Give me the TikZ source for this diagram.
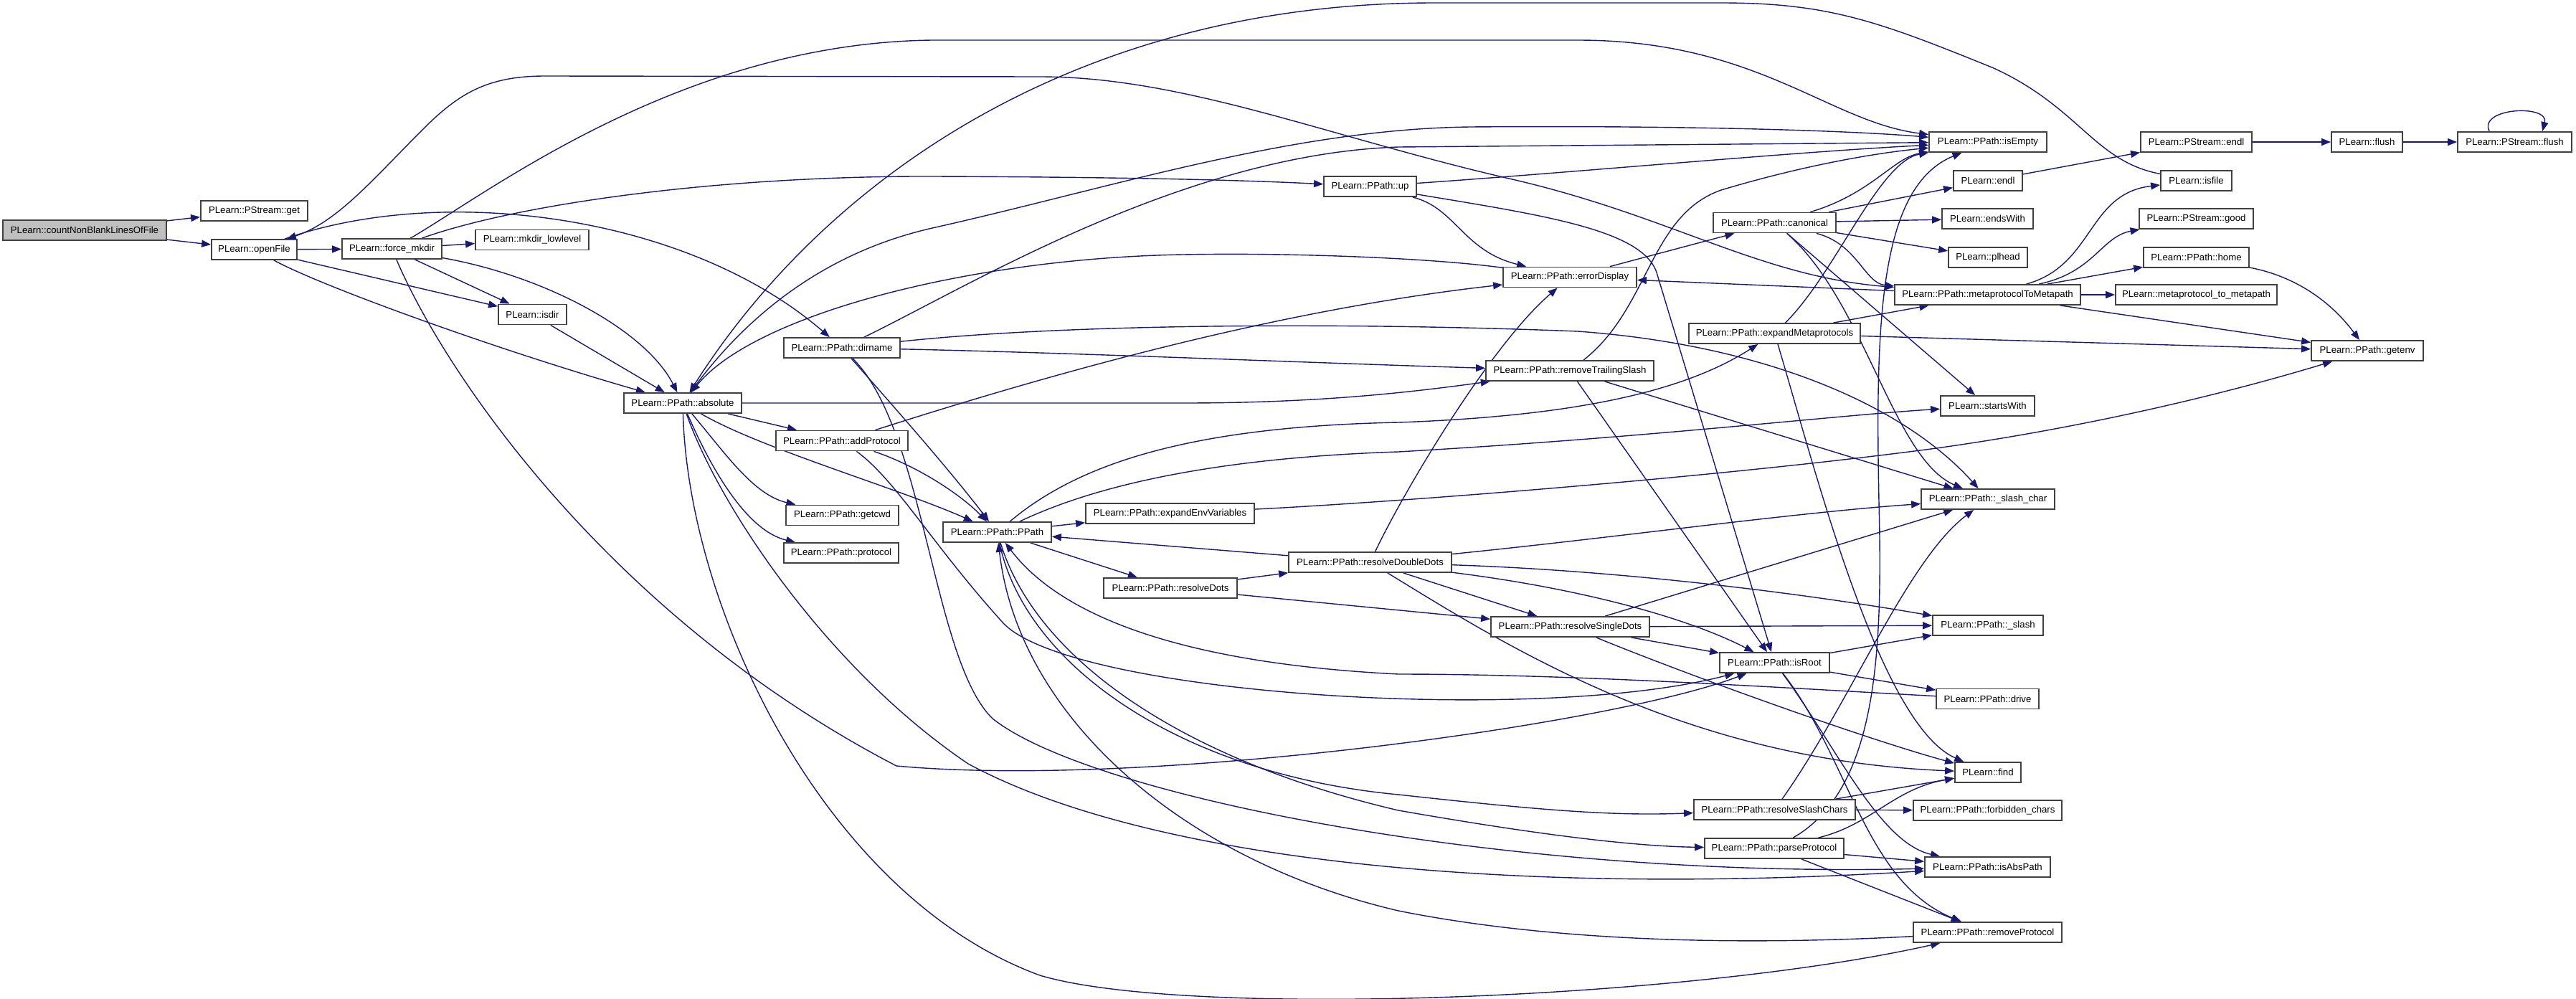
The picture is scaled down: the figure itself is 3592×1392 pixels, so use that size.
\documentclass[tikz,border=0pt]{standalone}
\usepackage{fontspec}
\setmainfont{Liberation Sans}
\usetikzlibrary{arrows.meta,calc}
\pgfdeclarelayer{bg}
\pgfsetlayers{bg,main}
\definecolor{edgec}{RGB}{25,25,112}
\definecolor{rootfill}{RGB}{191,191,191}
\begin{document}
\begin{tikzpicture}[x=0.5pt,y=-0.5pt,
  nbox/.style={draw=black!75,line width=0.9pt,fill=white,inner sep=0pt,minimum height=14pt,font=\fontsize{6.6}{8}\selectfont},
  conn/.style={draw=edgec,line width=0.7pt,-{Triangle[length=6.5pt,width=5pt]}},
  bconn/.style={draw=edgec,line width=0.7pt,{Triangle[length=6.5pt,width=5pt]}-{Triangle[length=6.5pt,width=5pt]}}]
\useasboundingbox (0,0) rectangle (3592,1392);
% nodes
\node[nbox,fill=rootfill,minimum width=114pt] (count) at (118,321) {PLearn::countNonBlankLinesOfFile};
\node[nbox,minimum width=74.5pt] (get) at (354.5,294) {PLearn::PStream::get};
\node[nbox,minimum width=59.5pt] (openFile) at (354.5,348) {PLearn::openFile};
\node[nbox,minimum width=69.5pt] (force) at (546.5,347) {PLearn::force\_mkdir};
\node[nbox,minimum width=79pt] (mkdir) at (742,334.5) {PLearn::mkdir\_lowlevel};
\node[nbox,minimum width=47.5pt] (isdir) at (742.5,438.5) {PLearn::isdir};
\node[nbox,minimum width=82pt] (absolute) at (952,562) {PLearn::PPath::absolute};
\node[nbox,minimum width=81pt] (dirname) at (1174,485) {PLearn::PPath::dirname};
\node[nbox,minimum width=92pt] (addProtocol) at (1174,614.5) {PLearn::PPath::addProtocol};
\node[nbox,minimum width=78.5pt] (getcwd) at (1174.5,718.5) {PLearn::PPath::getcwd};
\node[nbox,minimum width=80pt] (protocol) at (1173,771) {PLearn::PPath::protocol};
\node[nbox,minimum width=64.5pt] (up) at (1910.5,260) {PLearn::PPath::up};
\node[nbox,minimum width=75.5pt] (PPath) at (1390.5,742) {PLearn::PPath::PPath};
\node[nbox,minimum width=117.5pt] (eEV) at (1631.5,716) {PLearn::PPath::expandEnvVariables};
\node[nbox,minimum width=93pt] (resolveDots) at (1632,820) {PLearn::PPath::resolveDots};
\node[nbox,minimum width=113.5pt] (rDD) at (1910.5,784) {PLearn::PPath::resolveDoubleDots};
\node[nbox,minimum width=93pt] (errorDisplay) at (2189,386.5) {PLearn::PPath::errorDisplay};
\node[nbox,minimum width=117pt] (rTS) at (2189,517) {PLearn::PPath::removeTrailingSlash};
\node[nbox,minimum width=85.5pt] (canonical) at (2474.5,310.5) {PLearn::PPath::canonical};
\node[nbox,minimum width=119.5pt] (eMP) at (2474.5,465) {PLearn::PPath::expandMetaprotocols};
\node[nbox,minimum width=110.5pt] (rSD) at (2189.5,874) {PLearn::PPath::resolveSingleDots};
\node[nbox,minimum width=76.5pt] (isRoot) at (2474.5,924) {PLearn::PPath::isRoot};
\node[nbox,minimum width=112.5pt] (rSC) at (2474.5,1129) {PLearn::PPath::resolveSlashChars};
\node[nbox,minimum width=97pt] (parseProtocol) at (2474,1183) {PLearn::PPath::parseProtocol};
\node[nbox,minimum width=129.5pt] (mtM) at (2771.5,411) {PLearn::PPath::metaprotocolToMetapath};
\node[nbox,minimum width=82pt] (isEmpty) at (2772,198) {PLearn::PPath::isEmpty};
\node[nbox,minimum width=48pt] (endl) at (2772,252) {PLearn::endl};
\node[nbox,minimum width=63.5pt] (endsWith) at (2771.5,305) {PLearn::endsWith};
\node[nbox,minimum width=55pt] (plhead) at (2772,359) {PLearn::plhead};
\node[nbox,minimum width=65.5pt] (startsWith) at (2771.5,566) {PLearn::startsWith};
\node[nbox,minimum width=93pt] (slashchar) at (2772,696) {PLearn::PPath::\_slash\_char};
\node[nbox,minimum width=77pt] (slash) at (2772,872) {PLearn::PPath::\_slash};
\node[nbox,minimum width=71.5pt] (drive) at (2771.5,974.5) {PLearn::PPath::drive};
\node[nbox,minimum width=46pt] (find) at (2772,1077) {PLearn::find};
\node[nbox,minimum width=103.5pt] (forbidden) at (2771.5,1130) {PLearn::PPath::forbidden\_chars};
\node[nbox,minimum width=87.5pt] (isAbsPath) at (2771.5,1209) {PLearn::PPath::isAbsPath};
\node[nbox,minimum width=103.5pt] (removeProtocol) at (2771.5,1300) {PLearn::PPath::removeProtocol};
\node[nbox,minimum width=77.5pt] (psendl) at (3062.5,198) {PLearn::PStream::endl};
\node[nbox,minimum width=49.5pt] (isfile) at (3062.5,252) {PLearn::isfile};
\node[nbox,minimum width=79.5pt] (good) at (3062.5,305) {PLearn::PStream::good};
\node[nbox,minimum width=73.5pt] (home) at (3062.5,359) {PLearn::PPath::home};
\node[nbox,minimum width=112.5pt] (mtmtwo) at (3062.5,411) {PLearn::metaprotocol\_to\_metapath};
\node[nbox,minimum width=78pt] (getenv) at (3301,489) {PLearn::PPath::getenv};
\node[nbox,minimum width=49.5pt] (flush) at (3300.5,198) {PLearn::flush};
\node[nbox,minimum width=79.5pt] (psflush) at (3506.5,198) {PLearn::PStream::flush};
% edges
\begin{pgfonlayer}{bg}
\draw[conn] (count) -- (get);
\draw[conn] (count) -- (openFile);
\draw[conn] (openFile) -- (force);
\draw[conn] (openFile) -- (isdir);
\draw[conn] (openFile) .. controls (450,400) and (700,490) .. (absolute);
\draw[conn] (openFile) .. controls (620,255) and (960,300) .. (dirname);
\draw[conn] (force) .. controls (680,270) and (950,60) .. (1300,56) -- (2200,56) .. controls (2450,56) and (2550,170) .. (isEmpty);
\draw[conn] (force) .. controls (720,285) and (1000,245) .. (1300,246) .. controls (1600,247) and (1750,252) .. (up);
\draw[conn] (force) -- (mkdir);
\draw[conn] (force) -- (isdir);
\draw[conn] (force) .. controls (760,385) and (900,460) .. (absolute);
\draw[conn] (force) .. controls (620,520) and (850,860) .. (1250,1068) .. controls (1600,1100) and (2250,1010) .. (isRoot);
\draw[conn] (isdir) -- (absolute);
\draw[conn] (isfile) .. controls (2920,225) and (2900,150) .. (2780,95) .. controls (2620,30) and (2550,4) .. (2400,4) -- (2000,4) .. controls (1500,4) and (1150,250) .. (absolute);
\draw[bconn] (mtM) .. controls (2450,385) and (2330,300) .. (2100,248) .. controls (1850,190) and (1650,107) .. (1450,107) -- (760,106) .. controls (680,106) and (640,130) .. (590,180) .. controls (520,250) and (470,310) .. (openFile);
\draw[conn] (absolute) .. controls (1040,440) and (1150,352) .. (1300,318) .. controls (1550,262) and (1800,180) .. (2050,177) .. controls (2300,175) and (2550,180) .. (isEmpty);
\draw[conn] (absolute) -- (1650,562) .. controls (1850,562) and (1980,545) .. (rTS);
\draw[conn] (absolute) -- (addProtocol);
\draw[conn] (absolute) .. controls (1010,630) and (1050,690) .. (getcwd);
\draw[conn] (absolute) .. controls (990,650) and (1040,740) .. (protocol);
\draw[conn] (absolute) .. controls (1060,625) and (1250,680) .. (PPath);
\draw[conn] (absolute) .. controls (1000,700) and (1150,930) .. (1350,1065) .. controls (1600,1200) and (2100,1250) .. (isAbsPath);
\draw[conn] (absolute) .. controls (960,850) and (1150,1250) .. (1450,1360) .. controls (1650,1420) and (2350,1395) .. (removeProtocol);
\draw[conn] (errorDisplay) .. controls (2000,360) and (1800,352) .. (1650,355) .. controls (1350,360) and (1050,440) .. (absolute);
\draw[conn] (up) .. controls (2200,240) and (2500,212) .. (isEmpty);
\draw[conn] (up) .. controls (2030,290) and (2040,350) .. (errorDisplay);
\draw[conn] (up) .. controls (2150,300) and (2290,320) .. (2310,380) -- (isRoot);
\draw[conn] (dirname) .. controls (1350,400) and (1650,215) .. (1950,205) -- (isEmpty);
\draw[conn] (dirname) .. controls (1500,492) and (1800,505) .. (rTS);
\draw[conn] (dirname) .. controls (1500,450) and (1900,450) .. (2200,462) .. controls (2450,480) and (2650,560) .. (slashchar);
\draw[conn] (dirname) .. controls (1240,560) and (1320,650) .. (PPath);
\draw[conn] (dirname) .. controls (1290,600) and (1300,920) .. (1384,1002) .. controls (1520,1110) and (2100,1225) .. (isAbsPath);
\draw[conn] (addProtocol) .. controls (1250,670) and (1300,760) .. (1400,870) .. controls (1500,970) and (2150,1010) .. (isRoot);
\draw[conn] (addProtocol) .. controls (1500,510) and (1800,430) .. (errorDisplay);
\draw[conn] (addProtocol) .. controls (1280,650) and (1340,690) .. (PPath);
\draw[conn] (PPath) -- (eEV);
\draw[conn] (PPath) -- (resolveDots);
\draw[conn] (PPath) .. controls (1430,930) and (1650,1080) .. (1950,1108) .. controls (2150,1130) and (2250,1138) .. (rSC);
\draw[conn] (PPath) .. controls (1445,920) and (1650,1060) .. (1950,1130) .. controls (2150,1165) and (2280,1180) .. (parseProtocol);
\draw[conn] (PPath) .. controls (1500,650) and (1650,595) .. (1950,589) .. controls (2200,580) and (2350,545) .. (eMP);
\draw[conn] (PPath) .. controls (1500,690) and (1650,640) .. (1950,630) .. controls (2300,610) and (2550,580) .. (startsWith);
\draw[conn] (rDD) -- (PPath);
\draw[conn] (drive) .. controls (2500,960) and (2200,940) .. (1950,940) .. controls (1650,925) and (1480,860) .. (PPath);
\draw[conn] (removeProtocol) .. controls (2400,1320) and (2150,1310) .. (1950,1270) .. controls (1650,1200) and (1420,1000) .. (PPath);
\draw[conn] (eEV) .. controls (1950,700) and (2400,665) .. (2700,625) .. controls (2950,590) and (3150,535) .. (getenv);
\draw[conn] (resolveDots) -- (rDD);
\draw[conn] (resolveDots) -- (rSD);
\draw[conn] (rDD) .. controls (1960,680) and (2080,480) .. (errorDisplay);
\draw[conn] (rDD) -- (rSD);
\draw[conn] (rDD) .. controls (2200,820) and (2350,860) .. (isRoot);
\draw[conn] (rDD) .. controls (2250,795) and (2500,825) .. (slash);
\draw[conn] (rDD) .. controls (2250,750) and (2500,715) .. (slashchar);
\draw[conn] (rDD) .. controls (2100,900) and (2350,1060) .. (find);
\draw[conn] (rSD) -- (slash);
\draw[conn] (rSD) -- (slashchar);
\draw[conn] (rSD) -- (isRoot);
\draw[conn] (rSD) .. controls (2350,940) and (2600,1030) .. (find);
\draw[conn] (isRoot) -- (slash);
\draw[conn] (isRoot) -- (drive);
\draw[conn] (isRoot) .. controls (2560,1040) and (2620,1175) .. (isAbsPath);
\draw[conn] (isRoot) .. controls (2580,1060) and (2600,1230) .. (removeProtocol);
\draw[conn] (rSC) .. controls (2580,980) and (2660,780) .. (slashchar);
\draw[conn] (rSC) -- (find);
\draw[conn] (rSC) -- (forbidden);
\draw[conn] (parseProtocol) .. controls (2610,1150) and (2640,1100) .. (find);
\draw[conn] (parseProtocol) -- (isAbsPath);
\draw[conn] (parseProtocol) -- (removeProtocol);
\draw[conn] (parseProtocol) .. controls (2620,1100) and (2625,900) .. (2620,700) .. controls (2615,450) and (2620,260) .. (isEmpty);
\draw[conn] (canonical) .. controls (2610,270) and (2640,220) .. (isEmpty);
\draw[conn] (canonical) -- (endl);
\draw[conn] (canonical) -- (endsWith);
\draw[conn] (canonical) -- (plhead);
\draw[conn] (canonical) .. controls (2590,340) and (2600,395) .. (mtM);
\draw[conn] (canonical) -- (startsWith);
\draw[conn] (canonical) .. controls (2600,420) and (2640,640) .. (slashchar);
\draw[conn] (mtM) -- (errorDisplay);
\draw[conn] (mtM) .. controls (2920,370) and (2910,270) .. (isfile);
\draw[conn] (mtM) .. controls (2920,380) and (2930,330) .. (good);
\draw[conn] (mtM) -- (home);
\draw[conn] (mtM) -- (mtmtwo);
\draw[conn] (mtM) -- (getenv);
\draw[conn] (eMP) .. controls (2560,380) and (2620,225) .. (isEmpty);
\draw[conn] (eMP) -- (mtM);
\draw[conn] (eMP) -- (getenv);
\draw[conn] (eMP) .. controls (2530,650) and (2620,1010) .. (find);
\draw[conn] (rTS) .. controls (2300,430) and (2300,300) .. (2400,265) .. controls (2500,235) and (2600,215) .. (isEmpty);
\draw[conn] (rTS) -- (isRoot);
\draw[conn] (rTS) -- (slashchar);
\draw[conn] (errorDisplay) -- (canonical);
\draw[conn] (home) .. controls (3200,385) and (3250,420) .. (getenv);
\draw[conn] (endl) -- (psendl);
\draw[conn] (psendl) -- (flush);
\draw[conn] (flush) -- (psflush);
\draw[conn] ($(psflush.north west)!0.28!(psflush.north east)$) .. controls (3455,150) and (3555,145) .. ($(psflush.north west)!0.74!(psflush.north east)$);
\end{pgfonlayer}
\end{tikzpicture}
\end{document}
